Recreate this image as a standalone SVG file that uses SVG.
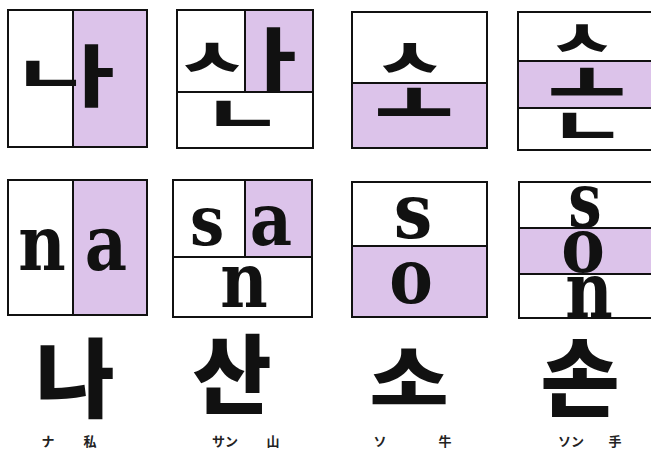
<svg xmlns="http://www.w3.org/2000/svg" width="651" height="452" viewBox="0 0 651 452">
<style>
.sh{fill:#dcc3ea}
.fr{fill:none;stroke:#111;stroke-width:2}
.ln{stroke:#111;stroke-width:2}
.j{font-family:"Noto Sans CJK KR","Noto Sans CJK SC",sans-serif;font-weight:900;fill:#111;text-anchor:middle}
.r{font-family:"DejaVu Serif","Liberation Serif",serif;font-weight:bold;fill:#111;text-anchor:middle;font-size:76px}
.big{font-family:"Noto Sans CJK KR",sans-serif;font-weight:900;fill:#111;text-anchor:middle;font-size:86px}
.lb{font-family:"Noto Sans CJK JP","Noto Sans CJK SC",sans-serif;font-weight:bold;fill:#222;text-anchor:middle;font-size:13px}
</style>
<rect width="651" height="452" fill="#fff"/>

<g id="box-na">
<rect class="sh" x="73" y="10" width="74" height="137"/>
<rect class="fr" x="8" y="10" width="139" height="137"/>
<line class="ln" x1="73" y1="10" x2="73" y2="147"/>
<g transform="translate(51,73) scale(1,0.61)"><text class="j" font-size="82" y="33">ㄴ</text></g>
<g transform="translate(94,76) scale(1,0.82)"><text class="j" font-size="82" y="31">ㅏ</text></g>
</g>

<g id="box-san">
<rect class="sh" x="245" y="10" width="68" height="82"/>
<rect class="fr" x="177" y="10" width="136" height="138"/>
<line class="ln" x1="177" y1="92" x2="313" y2="92"/>
<line class="ln" x1="245" y1="10" x2="245" y2="92"/>
<g transform="translate(212,57) scale(1,0.69)"><text class="j" font-size="78" y="31">ㅅ</text></g>
<g transform="translate(276,60) scale(1,0.85)"><text class="j" font-size="82" y="31">ㅏ</text></g>
<g transform="translate(243,113) scale(1,0.57)"><text class="j" font-size="88" y="35">ㄴ</text></g>
</g>

<g id="box-so">
<rect class="sh" x="352" y="83" width="135" height="65"/>
<rect class="fr" x="352" y="12" width="135" height="136"/>
<line class="ln" x1="352" y1="83" x2="487" y2="83"/>
<g transform="translate(410,56) scale(1,0.7)"><text class="j" font-size="78" y="31">ㅅ</text></g>
<g transform="translate(414,102) scale(1,0.7)"><text class="j" font-size="85" y="34">ㅗ</text></g>
</g>

<g id="box-son">
<rect class="sh" x="518" y="61" width="140" height="47"/>
<rect class="fr" x="518" y="12" width="140" height="138"/>
<line class="ln" x1="518" y1="61" x2="651" y2="61"/>
<line class="ln" x1="518" y1="108" x2="651" y2="108"/>
<g transform="translate(582,38) scale(1,0.7)"><text class="j" font-size="73" y="29">ㅅ</text></g>
<g transform="translate(587,82) scale(1,0.69)"><text class="j" font-size="84" y="34">ㅗ</text></g>
<g transform="translate(588,125) scale(1,0.6)"><text class="j" font-size="83" y="33">ㄴ</text></g>
</g>

<g id="box-na-latin">
<rect class="sh" x="73" y="180" width="74" height="135"/>
<rect class="fr" x="8" y="180" width="139" height="135"/>
<line class="ln" x1="73" y1="180" x2="73" y2="315"/>
<g transform="translate(42,270) scale(0.86,1)"><text class="r">n</text></g>
<g transform="translate(106,270) scale(0.86,1)"><text class="r">a</text></g>
</g>

<g id="box-san-latin">
<rect class="sh" x="245" y="180" width="67" height="77"/>
<rect class="fr" x="173" y="180" width="139" height="137"/>
<line class="ln" x1="173" y1="257" x2="312" y2="257"/>
<line class="ln" x1="245" y1="180" x2="245" y2="257"/>
<g transform="translate(207,245) scale(0.8,0.9)"><text class="r">s</text></g>
<g transform="translate(271,245) scale(0.86,0.95)"><text class="r">a</text></g>
<g transform="translate(244,307) scale(0.86,1)"><text class="r">n</text></g>
</g>

<g id="box-so-latin">
<rect class="sh" x="352" y="246" width="135" height="71"/>
<rect class="fr" x="352" y="182" width="135" height="135"/>
<line class="ln" x1="352" y1="246" x2="487" y2="246"/>
<g transform="translate(413,238) scale(0.9,1)"><text class="r">s</text></g>
<g transform="translate(411,303) scale(0.86,1)"><text class="r">o</text></g>
</g>

<g id="box-son-latin">
<rect class="sh" x="519" y="228" width="140" height="46"/>
<rect class="fr" x="519" y="182" width="140" height="136"/>
<line class="ln" x1="519" y1="228" x2="651" y2="228"/>
<line class="ln" x1="519" y1="274" x2="651" y2="274"/>
<g transform="translate(585,227) scale(0.78,1)"><text class="r">s</text></g>
<g transform="translate(583,272) scale(0.86,1)"><text class="r">o</text></g>
<g transform="translate(589,317) scale(0.86,1)"><text class="r">n</text></g>
</g>

<g id="syl-na">
<text class="big" x="75" y="411">나</text>
<text class="lb" x="48" y="446">ナ</text>
<text class="lb" x="90" y="446">私</text>
</g>
<g id="syl-san">
<text class="big" x="232" y="407">산</text>
<text class="lb" x="225" y="446">サン</text>
<text class="lb" x="273" y="446">山</text>
</g>
<g id="syl-so">
<g transform="translate(409,405) scale(1,0.82)"><text class="big" x="0" y="0">소</text></g>
<text class="lb" x="380" y="446">ソ</text>
<text class="lb" x="445" y="446">牛</text>
</g>
<g id="syl-son">
<text class="big" x="580" y="410">손</text>
<text class="lb" x="571" y="446">ソン</text>
<text class="lb" x="615" y="446">手</text>
</g>
</svg>
